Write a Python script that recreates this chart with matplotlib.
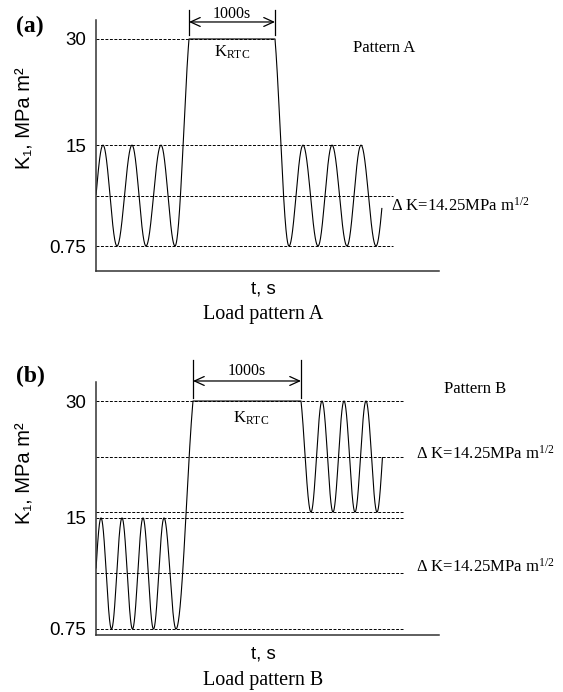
"""Schematic of the two load patterns (a) and (b)."""

import numpy as np
import matplotlib

matplotlib.use("Agg")
import matplotlib.pyplot as plt
from matplotlib.patches import FancyArrowPatch

plt.rcParams["mathtext.fontset"] = "custom"
plt.rcParams["mathtext.rm"] = "Liberation Serif"
plt.rcParams["mathtext.it"] = "Liberation Serif:italic"
plt.rcParams["mathtext.bf"] = "Liberation Serif:bold"

SANS = ["Liberation Sans", "DejaVu Sans"]
SERIF = ["Liberation Serif", "DejaVu Serif"]

# y tick levels, K1 in MPa m^1/2
tick_levels = [30, 15, 0.75]
tick_labels = ["30", "15", "0.75"]

# pattern A: turning points of the load signal (time in arbitrary units)
time_a = [-7, 7, 21, 36, 50, 65, 79, 93, 179, 193, 207, 222, 236, 251, 265, 280, 294]
level_a = [0.75, 15, 0.75, 15, 0.75, 15, 0.75, 30, 30, 0.75, 15, 0.75, 15, 0.75, 15, 0.75, 15]
end_a = 286
# dashed reference levels and how far they run
ref_a = [30, 15, 7.875, 0.75]
ref_end_a = [179, 266, 297, 297]

# pattern B
time_b = [-5.5, 5, 15.5, 26, 36.5, 47, 57.5, 68, 80, 97, 205,
          215, 226, 237, 248, 259, 270, 281, 292]
level_b = [0.75, 15, 0.75, 15, 0.75, 15, 0.75, 15, 0.75, 30, 30,
           15.75, 30, 15.75, 30, 15.75, 30, 15.75, 30]
end_b = 286.5
ref_b = [30, 22.875, 15.75, 15, 7.875, 0.75]
ref_end_b = [307, 307, 307, 307, 307, 307]

W, H = 563, 692
DASH = (0, (3, 1.6))


def _shape(s, sharp_start, sharp_end, a=0.8):
    """Half-cosine easing; a sharp end meets the plateau with a corner."""
    if sharp_end:
        return (1 - np.cos(np.pi * a * s)) / (1 - np.cos(np.pi * a))
    if sharp_start:
        return 1 - _shape(1 - s, False, True, a)
    return (1 - np.cos(np.pi * s)) / 2


def waveform(times, levels, t_end, n=80):
    """Join the turning points with half-cosine segments."""
    ts, vs = [], []
    last = len(times) - 1
    for i in range(last):
        t0, t1 = times[i], times[i + 1]
        v0, v1 = levels[i], levels[i + 1]
        s = np.linspace(0, 1, n)
        if v0 == v1:
            shape = s
        else:
            sharp_end = i + 2 <= last and levels[i + 2] == v1
            sharp_start = i >= 1 and levels[i - 1] == v0
            shape = _shape(s, sharp_start, sharp_end)
        ts.append(t0 + (t1 - t0) * s)
        vs.append(v0 + (v1 - v0) * shape)
    t = np.concatenate(ts)
    v = np.concatenate(vs)
    keep = (t >= 0) & (t <= t_end)
    return t[keep], v[keep]


def setup_axes(fig, top_px, bottom_px, ylim):
    ax = fig.add_axes([96 / W, 1 - bottom_px / H, 343 / W, (bottom_px - top_px) / H])
    ax.set_xlim(0, 343)
    ax.set_ylim(*ylim)
    for side in ("top", "right"):
        ax.spines[side].set_visible(False)
    for side in ("left", "bottom"):
        ax.spines[side].set_color("#333333")
        ax.spines[side].set_linewidth(1.1)
    ax.set_xticks([])
    ax.set_yticks(tick_levels)
    ax.set_yticklabels(tick_labels, family=SANS, fontsize=13.5)
    ax.tick_params(axis="y", length=0, pad=7)
    return ax


def dimension(ax, t0, t1, y_lo, y_hi, y_arrow, y_text):
    for t in (t0, t1):
        ax.plot([t, t], [y_lo, y_hi], color="black", lw=0.9, clip_on=False)
    ax.add_patch(FancyArrowPatch((t0, y_arrow), (t1, y_arrow),
                                 arrowstyle="<->,head_length=0.7,head_width=0.32",
                                 mutation_scale=10, lw=0.9, color="black",
                                 shrinkA=0, shrinkB=0, clip_on=False))
    ax.text((t0 + t1) / 2, y_text, "1000s", family=SERIF, fontsize=11.5,
            ha="center", va="center")


fig = plt.figure(figsize=(W / 100, H / 100), dpi=100)

# (a)
ax1 = setup_axes(fig, 20, 271, (-2.78, 32.68))
for lvl, x_end in zip(ref_a, ref_end_a):
    ax1.plot([0, x_end], [lvl, lvl], color="black", lw=0.7, linestyle=DASH)
t, v = waveform(time_a, level_a, end_a)
ax1.plot(t, v, color="black", lw=0.8)
dimension(ax1, time_a[7], time_a[8], 30.56, 34.1, 32.4, 33.55)
ax1.text(136, 28.1, r"K$_{\rm RTC}$", family=SERIF, fontsize=12, ha="center", va="center")
ax1.text(288, 28.7, "Pattern A", family=SERIF, fontsize=12, ha="center", va="center")
ax1.text(295, 6.4, r"Δ K=14.25MPa m$^{1/2}$", family=SERIF, fontsize=12,
         ha="left", va="center", clip_on=False)

fig.text(16 / W, 1 - 26 / H, "(a)", family=SERIF, fontweight="bold", fontsize=17,
         ha="left", va="center")
fig.text(25 / W, 1 - 118 / H, "K\u2081, MPa m\u00b2", family=SANS, fontsize=14.5,
         rotation=90, ha="center", va="center")
fig.text(263 / W, 1 - 289 / H, "t, s", family=SANS, fontsize=13.5, ha="center", va="center")
fig.text(263 / W, 1 - 314 / H, "Load pattern A", family=SERIF, fontsize=14.5,
         ha="center", va="center")

# (b)
ax2 = setup_axes(fig, 382, 635, (-0.02, 32.44))
for lvl, x_end in zip(ref_b, ref_end_b):
    ax2.plot([0, x_end], [lvl, lvl], color="black", lw=0.7, linestyle=DASH)
t, v = waveform(time_b, level_b, end_b)
ax2.plot(t, v, color="black", lw=0.8)
dimension(ax2, time_b[9], time_b[10], 30.38, 35.26, 32.57, 33.85)
ax2.text(155, 27.8, r"K$_{\rm RTC}$", family=SERIF, fontsize=12, ha="center", va="center")
ax2.text(379, 31.54, "Pattern B", family=SERIF, fontsize=12, ha="center", va="center",
         clip_on=False)
ax2.text(320, 23.2, r"Δ K=14.25MPa m$^{1/2}$", family=SERIF, fontsize=12,
         ha="left", va="center", clip_on=False)
ax2.text(320, 8.7, r"Δ K=14.25MPa m$^{1/2}$", family=SERIF, fontsize=12,
         ha="left", va="center", clip_on=False)

fig.text(16 / W, 1 - 376 / H, "(b)", family=SERIF, fontweight="bold", fontsize=17,
         ha="left", va="center")
fig.text(25 / W, 1 - 473 / H, "K\u2081, MPa m\u00b2", family=SANS, fontsize=14.5,
         rotation=90, ha="center", va="center")
fig.text(263 / W, 1 - 654 / H, "t, s", family=SANS, fontsize=13.5, ha="center", va="center")
fig.text(263 / W, 1 - 680 / H, "Load pattern B", family=SERIF, fontsize=14.5,
         ha="center", va="center")

fig.savefig("out.png", dpi=100, facecolor="white")
